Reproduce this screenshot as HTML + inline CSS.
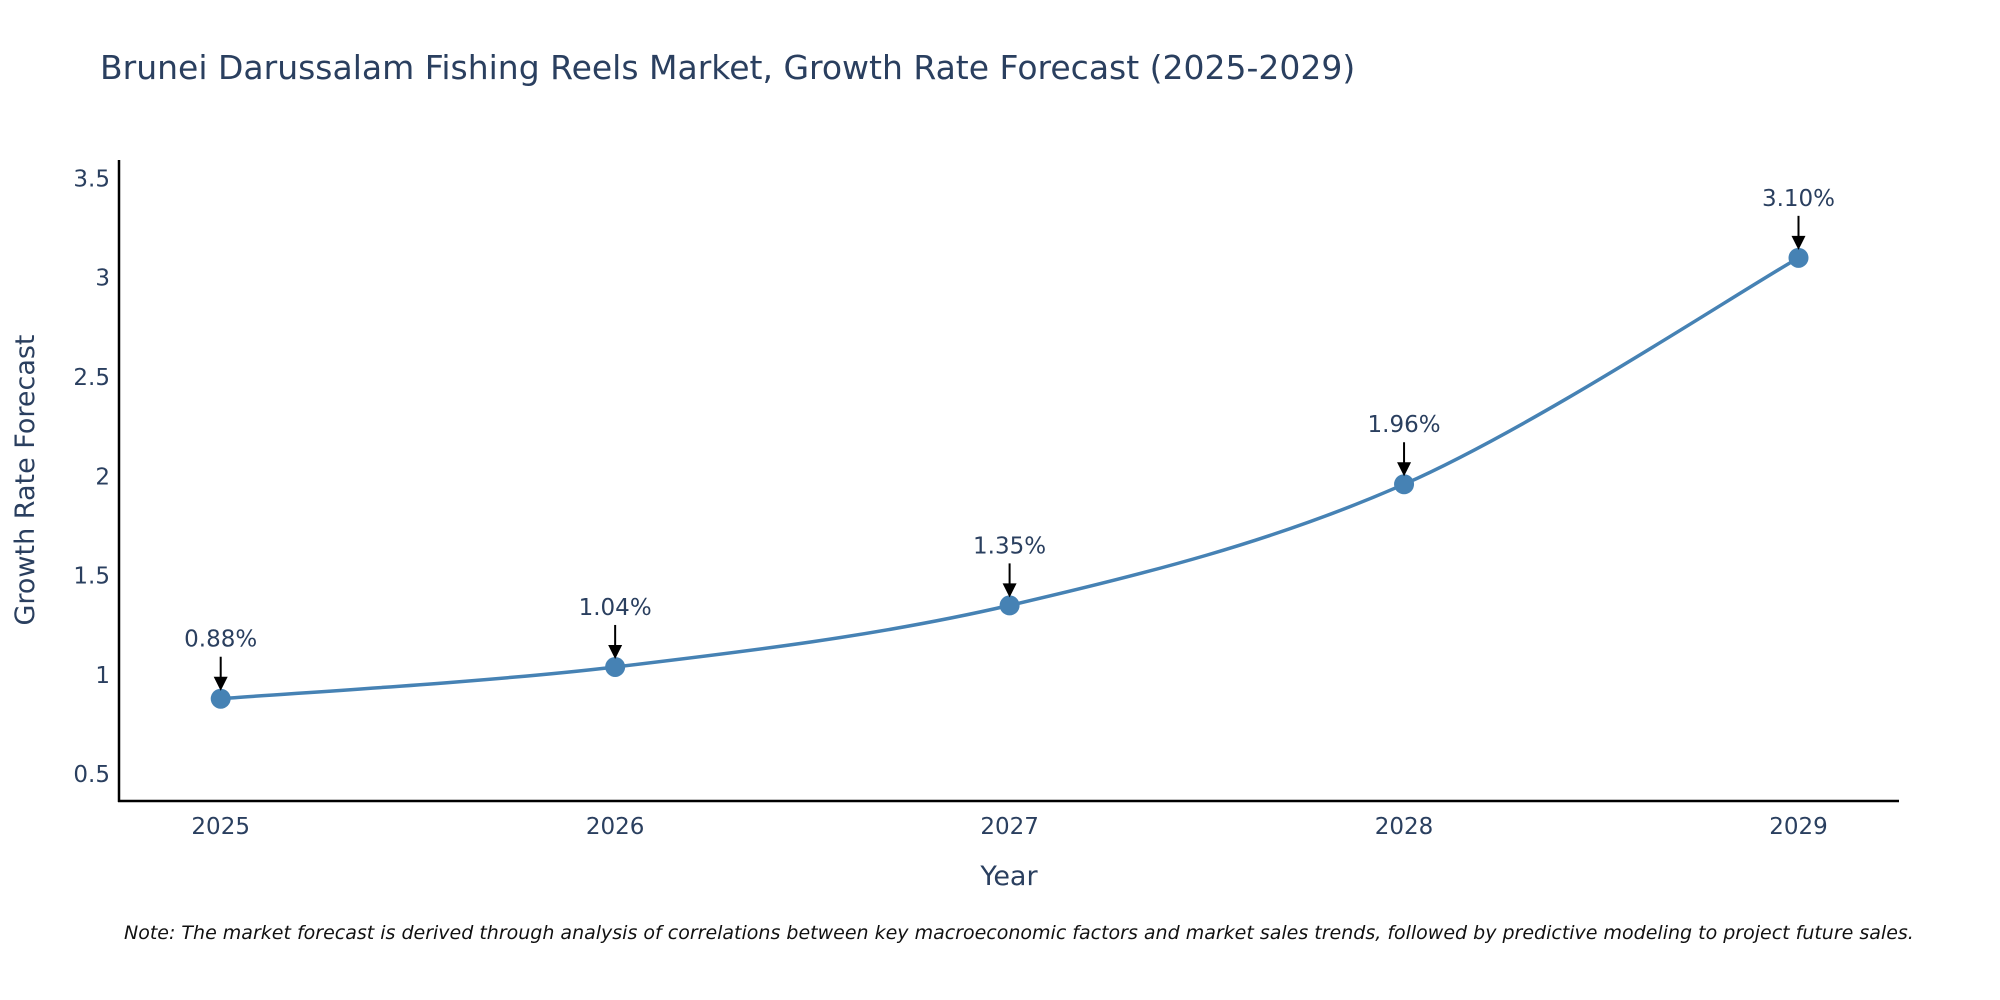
<!DOCTYPE html>
<html><head><meta charset="utf-8">
<style>
html,body{margin:0;padding:0;background:#fff;}
svg{display:block;font-family:"DejaVu Sans","Liberation Sans",sans-serif;}
</style></head>
<body>
<svg id="chart" width="2000" height="1000" viewBox="0 0 2000 1000" xmlns="http://www.w3.org/2000/svg">
<rect width="2000" height="1000" fill="#fff"/>
<text x="100" y="79" font-size="33" fill="#2a3f5f">Brunei Darussalam Fishing Reels Market, Growth Rate Forecast (2025-2029)</text>
<g id="yticks"></g>
<g id="xticks"></g>
<line x1="119" y1="160" x2="119" y2="802" stroke="#000" stroke-width="2.5"/>
<line x1="118" y1="801" x2="1899" y2="801" stroke="#000" stroke-width="2.5"/>
<text transform="translate(34,480) rotate(-90)" text-anchor="middle" font-size="27" fill="#2a3f5f">Growth Rate Forecast</text>
<text x="1009" y="885" text-anchor="middle" font-size="27" fill="#2a3f5f">Year</text>
<g id="series"></g>
<g id="annots"></g>
<text x="124" y="939" font-size="19" font-style="italic" fill="#111">Note: The market forecast is derived through analysis of correlations between key macroeconomic factors and market sales trends, followed by predictive modeling to project future sales.</text>
</svg>
<script>
const years = [2025, 2026, 2027, 2028, 2029];
const growth = [0.88, 1.04, 1.35, 1.96, 3.10];
const labels = ["0.88%", "1.04%", "1.35%", "1.96%", "3.10%"];
const yTickVals = [0.5, 1, 1.5, 2, 2.5, 3, 3.5];
const yTickLabels = ["0.5", "1", "1.5", "2", "2.5", "3", "3.5"];

const NS = "http://www.w3.org/2000/svg";
function xs(v){ return 220.7 + (v - 2025) * 394.45; }
function ys(v){ return 774.2 - (v - 0.5) * 198.6; }
function mk(tag, attrs){ const e = document.createElementNS(NS, tag); for (const k in attrs) e.setAttribute(k, attrs[k]); return e; }

const yg = document.getElementById('yticks');
yTickVals.forEach((v, i) => {
  const t = mk('text', {x: 110, y: ys(v) + 8, 'text-anchor': 'end', 'font-size': 23, fill: '#2a3f5f'});
  t.textContent = yTickLabels[i];
  
  
  yg.appendChild(t);
});
const xg = document.getElementById('xticks');
years.forEach(y => {
  const t = mk('text', {x: xs(y), y: 834, 'text-anchor': 'middle', 'font-size': 23, fill: '#2a3f5f'});
  t.textContent = String(y);
  
  
  xg.appendChild(t);
});

const pts = years.map((y, i) => [xs(y), ys(growth[i])]);
let d = 'M' + pts[0][0] + ',' + pts[0][1];
for (let i = 0; i < pts.length - 1; i++) {
  const p0 = pts[Math.max(0, i - 1)], p1 = pts[i], p2 = pts[i + 1], p3 = pts[Math.min(pts.length - 1, i + 2)];
  const s = 1 / 6;
  const c1 = [p1[0] + (p2[0] - p0[0]) * s, p1[1] + (p2[1] - p0[1]) * s];
  const c2 = [p2[0] - (p3[0] - p1[0]) * s, p2[1] - (p3[1] - p1[1]) * s];
  d += ' C' + c1.join(',') + ' ' + c2.join(',') + ' ' + p2.join(',');
}
const sg = document.getElementById('series');
const line = mk('path', {d: d, fill: 'none', stroke: '#4682B4', 'stroke-width': 3.5});


sg.appendChild(line);
pts.forEach(p => {
  const c = mk('circle', {cx: p[0], cy: p[1], r: 10, fill: '#4682B4'});
  
  
  sg.appendChild(c);
});

const ag = document.getElementById('annots');
pts.forEach((p, i) => {
  const l = mk('line', {x1: p[0], y1: p[1] - 42, x2: p[0], y2: p[1] - 20, stroke: '#000', 'stroke-width': 2});
  
  
  ag.appendChild(l);
  const h = mk('polygon', {points: (p[0]-7)+','+(p[1]-22)+' '+(p[0]+7)+','+(p[1]-22)+' '+p[0]+','+(p[1]-8), fill: '#000'});
  
  
  ag.appendChild(h);
  const t = mk('text', {x: p[0], y: p[1] - 52, 'text-anchor': 'middle', 'font-size': 23, fill: '#2a3f5f'});
  t.textContent = labels[i];
  
  
  ag.appendChild(t);
});
</script>
</body></html>
